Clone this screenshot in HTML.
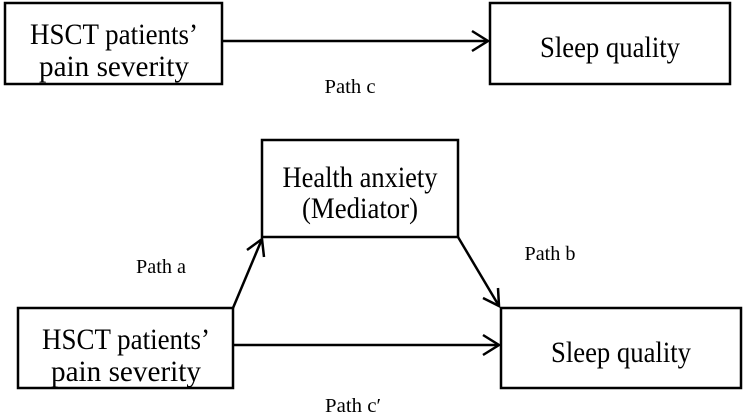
<!DOCTYPE html>
<html><head><style>html,body{margin:0;padding:0;background:#fff;}svg{display:block}</style></head>
<body>
<svg width="744" height="419" viewBox="0 0 744 419" xmlns="http://www.w3.org/2000/svg" font-family="'Liberation Serif', serif" fill="#000">
<g fill="none" stroke="#000" stroke-width="2.5">
<rect x="5" y="3" width="217" height="81"/>
<rect x="490" y="3" width="240" height="81"/>
<rect x="262" y="140" width="196" height="97"/>
<rect x="18" y="308" width="215" height="80"/>
<rect x="501" y="308" width="240" height="80"/>
<line x1="222" y1="41" x2="488" y2="41"/>
<polyline points="472,31 488,41 472,51"/>
<line x1="233" y1="345" x2="499" y2="345"/>
<polyline points="483,335 499,345 483,355"/>
<line x1="233" y1="308" x2="262" y2="239"/>
<polyline points="247,250 262,239 264,257"/>
<line x1="458" y1="237" x2="499" y2="306"/>
<polyline points="483,298 499,306 498,288"/>
</g>
<g font-size="30" text-anchor="middle">
<text x="114" y="44" textLength="168" lengthAdjust="spacingAndGlyphs">HSCT patients’</text>
<text x="114" y="76" textLength="150" lengthAdjust="spacingAndGlyphs">pain severity</text>
<text x="610" y="57" textLength="140" lengthAdjust="spacingAndGlyphs">Sleep quality</text>
<text x="360" y="187" textLength="155" lengthAdjust="spacingAndGlyphs">Health anxiety</text>
<text x="360" y="218" textLength="116" lengthAdjust="spacingAndGlyphs">(Mediator)</text>
<text x="126" y="349" textLength="168" lengthAdjust="spacingAndGlyphs">HSCT patients’</text>
<text x="126" y="381" textLength="150" lengthAdjust="spacingAndGlyphs">pain severity</text>
<text x="621" y="362" textLength="140" lengthAdjust="spacingAndGlyphs">Sleep quality</text>
</g>
<g font-size="20" text-anchor="middle">
<text x="350" y="93" textLength="51" lengthAdjust="spacingAndGlyphs">Path c</text>
<text x="161" y="273" textLength="50" lengthAdjust="spacingAndGlyphs">Path a</text>
<text x="550" y="260" textLength="51" lengthAdjust="spacingAndGlyphs">Path b</text>
<text x="353" y="412" textLength="56" lengthAdjust="spacingAndGlyphs">Path c′</text>
</g>
</svg>
</body></html>
